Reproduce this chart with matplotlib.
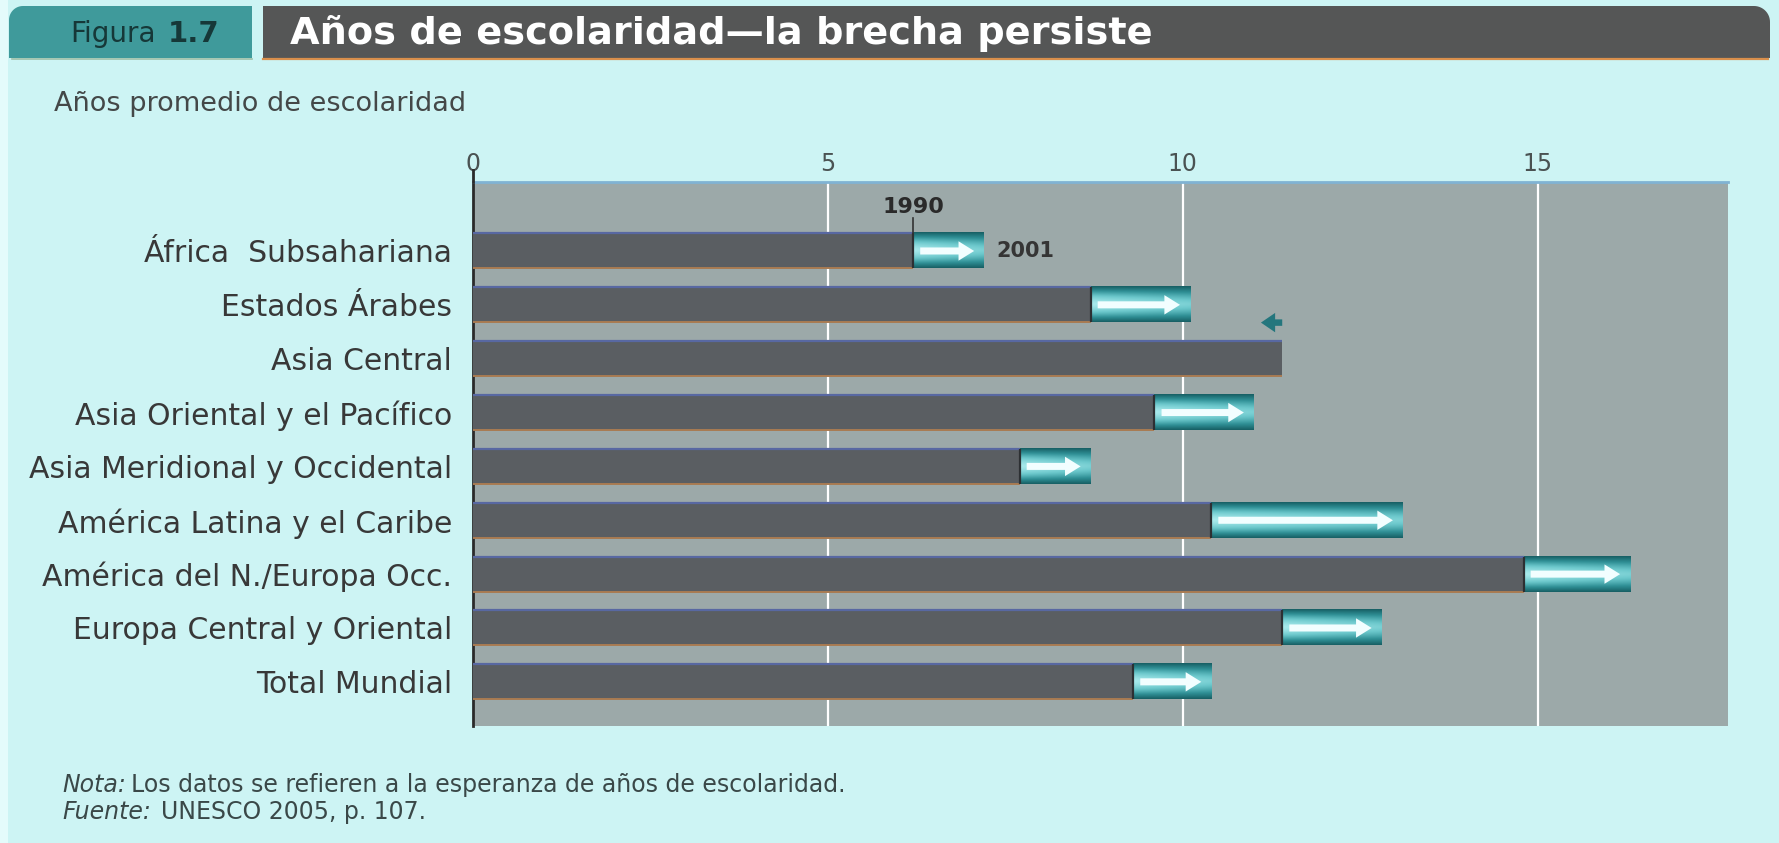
import numpy as np
import matplotlib
matplotlib.use('Agg')
import matplotlib.pyplot as plt
from matplotlib.patches import Polygon, FancyArrow, Rectangle
from matplotlib.lines import Line2D
from matplotlib.colors import LinearSegmentedColormap

regions = ['África  Subsahariana', 'Estados Árabes', 'Asia Central',
           'Asia Oriental y el Pacífico', 'Asia Meridional y Occidental',
           'América Latina y el Caribe', 'América del N./Europa Occ.',
           'Europa Central y Oriental', 'Total Mundial']
years_1990 = [6.2, 8.7, 11.4, 9.6, 7.7, 10.4, 14.8, 11.4, 9.3]
years_2001 = [7.2, 10.1, 11.1, 11.0, 8.7, 13.1, 16.3, 12.8, 10.4]
xticks = [0, 5, 10, 15]

title = 'Años de escolaridad\u2014la brecha persiste'
subtitle = 'Años promedio de escolaridad'
note = 'Los datos se refieren a la esperanza de años de escolaridad.'
source = 'UNESCO 2005, p. 107.'

W, H = 1779, 843
plt.rcParams['font.family'] = ['DejaVu Sans']

fig = plt.figure(figsize=(W / 100, H / 100), dpi=100)
fig.patch.set_facecolor('#cdf4f4')


def fx(x):
    return x / W


def fy(y):
    return 1 - y / H


def header_box(x0, x1, y0, y1, r, side, color):
    # box in pixel coords with one rounded top corner
    t = np.linspace(0, np.pi / 2, 16)
    if side == 'left':
        cx, cy = x0 + r, y0 + r
        arc = [(cx - r * np.cos(a), cy - r * np.sin(a)) for a in t]
        pts = [(x0, y1)] + arc + [(x1, y0), (x1, y1)]
    else:
        cx, cy = x1 - r, y0 + r
        arc = [(cx + r * np.sin(a), cy - r * np.cos(a)) for a in t]
        pts = [(x0, y1), (x0, y0)] + arc + [(x1, y1)]
    pts = [(fx(x), fy(y)) for x, y in pts]
    fig.patches.append(Polygon(pts, closed=True, transform=fig.transFigure,
                               facecolor=color, edgecolor='none'))


fig.patches.append(Rectangle((0, 0), fx(8), 1, transform=fig.transFigure,
                             facecolor='#e4fbfb', edgecolor='none'))
header_box(9, 252, 6, 58, 14, 'left', '#3f9a9b')
header_box(263, 1770, 6, 58, 16, 'right', '#555656')
fig.add_artist(Line2D([fx(263), fx(1768)], [fy(59), fy(59)], color='#d98f4c', lw=1.6))
fig.add_artist(Line2D([fx(12), fx(252)], [fy(59), fy(59)], color='#9fc0a8', lw=1.2))

fig.text(fx(290), fy(33), title, color='white', fontsize=27.5, fontweight='bold',
         ha='left', va='center')
fig.text(fx(70), fy(34), 'Figura', color='#163838', fontsize=20, ha='left', va='center')
fig.text(fx(168), fy(34), '1.7', color='#163838', fontsize=21, fontweight='bold',
         ha='left', va='center')
fig.text(fx(54), fy(104), subtitle, color='#444848', fontsize=19.5, ha='left', va='center')

# main panel
ax = fig.add_axes([fx(473), fy(726), fx(1728) - fx(473), (726 - 181.5) / H])
ax.set_facecolor('#9ca9a9')

ypos = np.arange(len(regions))
h = 0.65
ax.barh(ypos, years_1990, height=h, color='#5a5e62', zorder=3)
ax.hlines(ypos - h / 2, 0, years_1990, color='#5868a2', lw=1.6, zorder=4)
ax.hlines(ypos + h / 2, 0, years_1990, color='#a97b52', lw=1.4, zorder=4)

teal = LinearSegmentedColormap.from_list('teal', ['#175f64', '#2f8f95', '#6cc8cc', '#a8eaec'])
prof = 1 - np.abs(np.linspace(-1, 1, 60)) ** 1.4
grad = prof[:, None] * np.linspace(1.0, 0.75, 40)[None, :]

for i, (a, b) in enumerate(zip(years_1990, years_2001)):
    if b > a:
        ax.imshow(grad, extent=(a, b, i + h / 2, i - h / 2), cmap=teal, vmin=0, vmax=1,
                  aspect='auto', interpolation='bicubic', zorder=3)
        ax.vlines(a, i - h / 2, i + h / 2, color='#2d3033', lw=1.6, zorder=4)
        x0 = a + 0.1
        length = (b - 0.14) - x0
        ax.add_patch(FancyArrow(x0, i, length, 0, width=0.13, head_width=0.36,
                                head_length=min(0.22, length * 0.45),
                                length_includes_head=True, facecolor='#f2feff',
                                edgecolor='none', zorder=5))
    else:
        # decrease marker above the bar
        ax.add_patch(FancyArrow(a, i - 0.67, b - a, 0, width=0.12, head_width=0.36,
                                head_length=0.2, length_includes_head=True,
                                facecolor='#24767d', edgecolor='none', zorder=5))

# year labels on the first bar
ax.text(years_1990[0], -0.82, '1990', ha='center', va='center', fontsize=16,
        fontweight='bold', color='#2a2a2a', zorder=6)
ax.plot([years_1990[0], years_1990[0]], [-0.62, -h / 2], color='#333333', lw=1.2, zorder=6)
ax.text(years_2001[0] + 0.18, 0, '2001', ha='left', va='center', fontsize=15,
        fontweight='bold', color='#353535', zorder=6)

ax.set_xlim(0, 17.68)
ax.set_ylim(8.82, -1.29)
ax.set_xticks(xticks)
ax.set_yticks(ypos, regions)
ax.grid(axis='x', color='white', lw=1.6, zorder=1)
ax.set_axisbelow(True)
ax.xaxis.tick_top()
ax.tick_params(axis='x', length=0, pad=4, labelsize=17, labelcolor='#4a5252')
ax.tick_params(axis='y', length=0, pad=15, labelsize=21.5, labelcolor='#383838')
for s in ['right', 'bottom']:
    ax.spines[s].set_visible(False)
ax.spines['left'].set_color('#2a2a2a')
ax.spines['left'].set_linewidth(2)
ax.spines['top'].set_color('#80b3d3')
ax.spines['top'].set_linewidth(2)
ax.plot([0, 0], [-1.29, -1.5], color='#2a2a2a', lw=2, clip_on=False, zorder=6)

# footnote
r = fig.canvas.get_renderer()
t1 = fig.text(fx(62), fy(785), 'Nota:', style='italic', fontsize=17, color='#3a4848',
              ha='left', va='center')
bb = t1.get_window_extent(r)
fig.text(bb.x1 / W + fx(5), fy(785), note, fontsize=17, color='#3a4848',
         ha='left', va='center')
t2 = fig.text(fx(62), fy(812), 'Fuente:', style='italic', fontsize=17, color='#3a4848',
              ha='left', va='center')
bb = t2.get_window_extent(r)
fig.text(bb.x1 / W + fx(10), fy(812), source, fontsize=17, color='#3a4848',
         ha='left', va='center')

fig.savefig('out.png', dpi=100, facecolor=fig.get_facecolor())
